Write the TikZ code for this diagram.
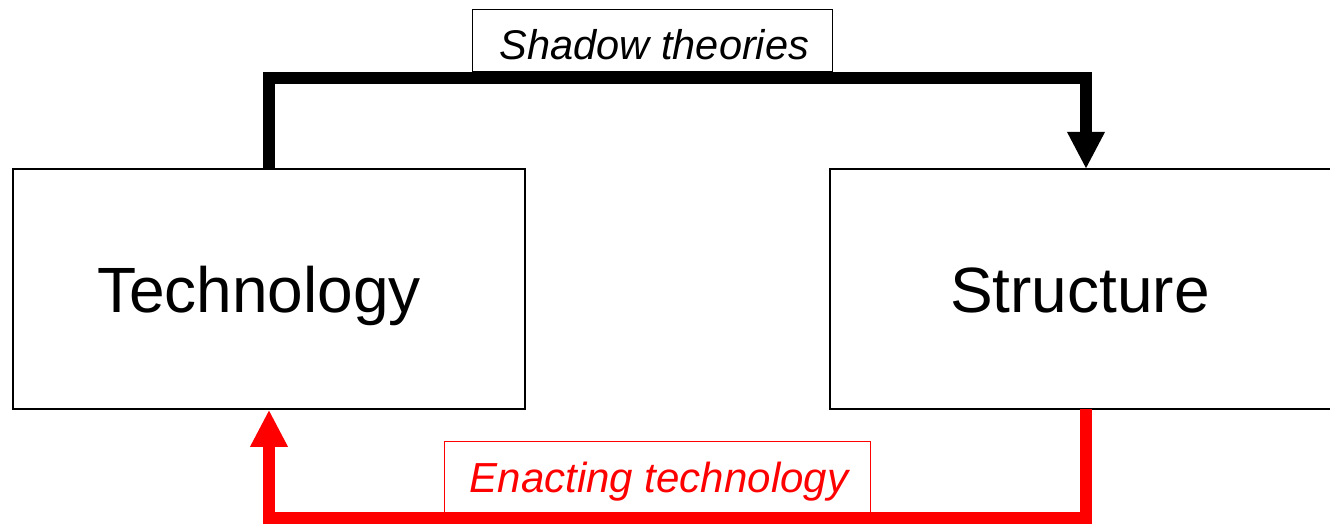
\documentclass[tikz,border=0pt]{standalone}
\usepackage{fontspec}
\setmainfont{Liberation Sans}
\usetikzlibrary{arrows.meta}
\definecolor{enred}{RGB}{255,0,0}
\tikzset{
  mainbox/.style={draw=black, line width=1.5pt, fill=white, inner sep=0pt},
  maintext/.style={inner sep=0pt, font=\fontsize{64}{64}\selectfont,
    text height=46pt, text depth=0pt},
  labelbox/.style={draw, line width=1pt, fill=white, inner sep=0pt, text depth=0pt},
  flow/.style={line width=12pt, line join=miter,
    -{Triangle[length=37pt,width=35pt]}},
}
\begin{document}
\begin{tikzpicture}[x=1pt,y=-1pt]
\useasboundingbox (0,0) rectangle (1330,524);
\node[mainbox, minimum width=512pt, minimum height=240pt] (tech) at (269,289) {};
\node[mainbox, minimum width=502pt, minimum height=240pt] (struct) at (1081,289) {};
\node[maintext] (techtext) at ([xshift=-10pt]tech.center) {Technology};
\node[maintext] (structtext) at ([xshift=-1pt]struct.center) {Structure};
\coordinate (sIn) at (1086,169);
\coordinate (sOut) at (1086,409);
\draw[flow, black] (tech.north) -- ++(0,-90) -| (sIn);
\draw[flow, enred] (sOut) -- ++(0,109) -| (tech.south);
\node[labelbox, draw=black, minimum width=360pt, minimum height=62pt, text height=38pt,
  font=\fontsize{41.5}{41.5}\selectfont\itshape] (shadow) at (652,41) {\hspace*{5pt}Shadow theories};
\node[labelbox, draw=enred, text=enred, minimum width=426pt, minimum height=71pt, text height=31pt,
  font=\fontsize{42}{42}\selectfont\itshape] (enact) at (657,476.5) {\hspace*{4pt}Enacting technology};
\end{tikzpicture}
\end{document}
